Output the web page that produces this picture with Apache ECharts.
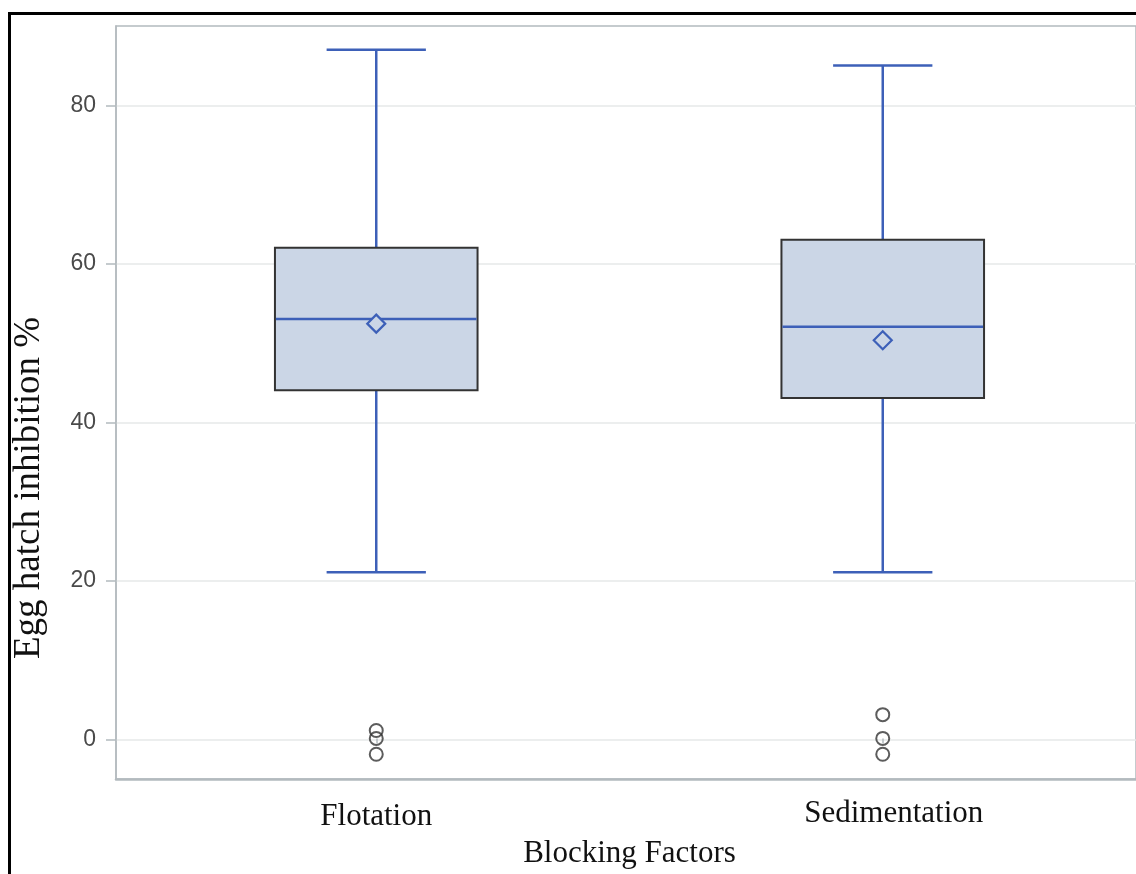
<!DOCTYPE html>
<html>
<head>
<meta charset="utf-8">
<script src="https://cdn.jsdelivr.net/npm/echarts@6/dist/echarts.min.js"></script>
<style>
  html, body { margin: 0; padding: 0; background: #fff; }
  #chart { position: absolute; left: 0; top: 0; width: 1136px; height: 874px; }
  #frame { position: absolute; left: 8px; top: 12px; right: -10px; bottom: -10px;
           border-left: 3px solid #000; border-top: 3px solid #000; pointer-events: none; }
</style>
</head>
<body>
<div id="chart"></div>
<div id="frame"></div>
<script>
// ---- data ----
const categories = ['Flotation', 'Sedimentation'];
const whiskerLow  = [21, 21];
const quartile1   = [44, 43];
const medians     = [53, 52];
const quartile3   = [62, 63];
const whiskerHigh = [87, 85];
const means       = [52.4, 50.3];
const outlierCat  = [0, 0, 0, 1, 1, 1];
const outlierVal  = [1, 0, -2, 3, 0, -2];
const yTicks      = [0, 20, 40, 60, 80];
const yTitle = 'Egg hatch inhibition %';
const xTitle = 'Blocking Factors';

const boxData = categories.map((c, i) =>
  [i, whiskerLow[i], quartile1[i], medians[i], quartile3[i], whiskerHigh[i], means[i]]);
const outlierData = outlierCat.map((c, i) => [c, outlierVal[i]]);

const BLUE = '#3d60b8';
const FILL = '#cbd6e6';
const EDGE = '#333333';
const GRID_GRAY = '#b3babe';
const SERIF = '"Liberation Serif", "Times New Roman", serif';

// small label nudges seen in the reference
const labelPads = [[3, 0, 0, 0], [0, 0, 0, 22]];
const xAxisData = categories.map((c, i) => ({ value: c, textStyle: { padding: labelPads[i] } }));

function renderBox(params, api) {
  const x = api.value(0);
  const lo = api.coord([x, api.value(1)]);
  const q1 = api.coord([x, api.value(2)]);
  const md = api.coord([x, api.value(3)]);
  const q3 = api.coord([x, api.value(4)]);
  const hi = api.coord([x, api.value(5)]);
  const mn = api.coord([x, api.value(6)]);
  const band = api.size([1, 0])[0];
  const bw = band * 0.4;
  const cw = band * 0.196;
  const cx = lo[0];
  const d = 9;
  const lineStyle = { stroke: BLUE, lineWidth: 2.5, fill: null };
  return {
    type: 'group',
    children: [
      { type: 'line', shape: { x1: cx, y1: q3[1], x2: cx, y2: hi[1] }, style: lineStyle },
      { type: 'line', shape: { x1: cx, y1: q1[1], x2: cx, y2: lo[1] }, style: lineStyle },
      { type: 'line', shape: { x1: cx - cw / 2, y1: hi[1], x2: cx + cw / 2, y2: hi[1] }, style: lineStyle },
      { type: 'line', shape: { x1: cx - cw / 2, y1: lo[1], x2: cx + cw / 2, y2: lo[1] }, style: lineStyle },
      { type: 'rect', shape: { x: cx - bw / 2, y: q3[1], width: bw, height: q1[1] - q3[1] },
        style: { fill: FILL, stroke: EDGE, lineWidth: 2 } },
      { type: 'line', shape: { x1: cx - bw / 2 + 1, y1: md[1], x2: cx + bw / 2 - 1, y2: md[1] }, style: lineStyle },
      { type: 'polygon', shape: { points: [[cx, mn[1] - d], [cx + d, mn[1]], [cx, mn[1] + d], [cx - d, mn[1]]] },
        style: { fill: FILL, stroke: BLUE, lineWidth: 2.2 } }
    ]
  };
}

const chart = echarts.init(document.getElementById('chart'), null, { renderer: 'canvas' });
const option = {
  backgroundColor: '#fff',
  animation: false,
  grid: [
    { left: 123, width: 1016, top: 26, bottom: 95 },
    { left: 116, right: -40, top: 26, bottom: 95, show: true, borderColor: GRID_GRAY, borderWidth: 1.5, backgroundColor: 'transparent' }
  ],
  xAxis: [
    { type: 'category', gridIndex: 0, data: xAxisData, boundaryGap: true,
      axisLine: { show: false },
      axisTick: { show: true, alignWithLabel: true, length: 5, lineStyle: { color: GRID_GRAY, width: 1.5 } },
      axisLabel: { margin: 20, fontFamily: SERIF, fontSize: 31, color: '#111' },
      splitLine: { show: false },
      name: xTitle, nameLocation: 'middle', nameGap: 60,
      nameTextStyle: { fontFamily: SERIF, fontSize: 31, color: '#111' } },
    { type: 'value', gridIndex: 1, min: 0, max: 1, show: true,
      axisLine: { show: true, onZero: false, lineStyle: { color: GRID_GRAY, width: 2.5 } },
      axisTick: { show: false }, axisLabel: { show: false }, splitLine: { show: false } }
  ],
  yAxis: [
    { type: 'value', gridIndex: 0, min: -5, max: 90, show: false, splitLine: { show: false } },
    { type: 'value', gridIndex: 1, min: -5, max: 90,
      axisLine: { show: true, onZero: false, lineStyle: { color: GRID_GRAY, width: 1.5 } },
      axisTick: { show: true, length: 10, customValues: yTicks, lineStyle: { color: GRID_GRAY, width: 1.5 } },
      axisLabel: { customValues: yTicks, margin: 20, fontFamily: '"Liberation Sans", Arial, sans-serif', fontSize: 23, color: '#4a4a4a' },
      splitLine: { show: true, lineStyle: { color: '#e6e8e9', width: 1.5 } } }
  ],
  graphic: [
    { type: 'text', x: 29, y: 488, rotation: Math.PI / 2,
      style: { text: yTitle, font: '37px ' + SERIF, fill: '#111',
               align: 'center', verticalAlign: 'middle' } }
  ],
  series: [
    { type: 'custom', xAxisIndex: 0, yAxisIndex: 0, renderItem: renderBox, data: boxData, z: 3 },
    { type: 'scatter', xAxisIndex: 0, yAxisIndex: 0, data: outlierData, symbol: 'circle', symbolSize: 13,
      itemStyle: { color: 'rgba(0,0,0,0)', borderColor: '#333', borderWidth: 2 }, z: 4 }
  ]
};
chart.setOption(option);
</script>
</body>
</html>
